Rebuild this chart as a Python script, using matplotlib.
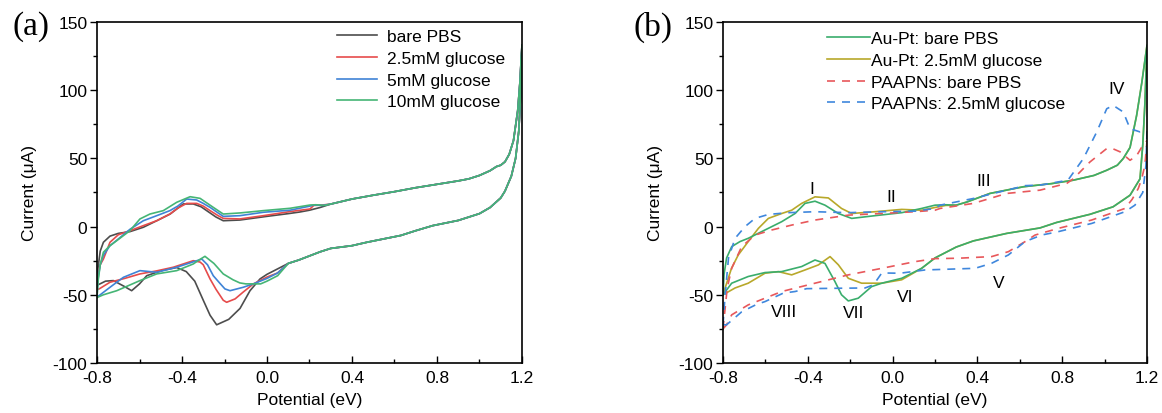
import matplotlib
matplotlib.use("Agg")
import matplotlib.pyplot as plt
from matplotlib.ticker import MultipleLocator

plt.rcParams['font.family'] = ['Liberation Sans', 'DejaVu Sans']

# ---------------- panel (a): Au-Pt in glucose ----------------
# shared part of the anodic (upper) sweep, E >= 0.3 V
tail_up_E = [0.30, 0.40, 0.50, 0.60, 0.70, 0.80, 0.90, 0.95, 1.00, 1.05, 1.08, 1.10, 1.12, 1.14, 1.16, 1.18, 1.19, 1.20]
tail_up_I = [16.5, 20.2, 23.0, 25.6, 28.5, 31.0, 33.5, 35.0, 37.5, 41.0, 44.0, 45.0, 47.5, 53.0, 63.0, 85.0, 105.0, 133.0]
# shared part of the cathodic (lower) sweep, 1.2 V down to 0.1 V
tail_dn_E = [1.20, 1.195, 1.185, 1.17, 1.15, 1.12, 1.10, 1.05, 1.00, 0.90, 0.78, 0.70, 0.63, 0.55, 0.47, 0.40, 0.30, 0.25, 0.20, 0.15, 0.10]
tail_dn_I = [133.0, 100.0, 70.0, 50.0, 37.0, 26.0, 21.0, 14.0, 9.5, 4.5, 0.7, -3.0, -6.5, -9.0, -11.5, -14.0, -16.0, -18.5, -21.5, -24.5, -27.0]

bare_up_E = [-0.80, -0.795, -0.785, -0.77, -0.739, -0.70, -0.645, -0.582, -0.519, -0.456, -0.42, -0.394, -0.347, -0.31, -0.284, -0.24, -0.206, -0.128, 0.0, 0.10, 0.155, 0.20, 0.25]
bare_up_I = [-43, -30, -18, -11.5, -7, -5, -3.7, -0.5, 4.3, 9.2, 13.5, 16.6, 16.6, 14.5, 11.7, 7, 4.3, 4.8, 7.5, 9.5, 10.7, 12, 14]
bare_dn_E = [0.05, 0.0, -0.033, -0.08, -0.127, -0.18, -0.237, -0.268, -0.30, -0.34, -0.38, -0.425, -0.488, -0.519, -0.566, -0.60, -0.637, -0.67, -0.723, -0.76, -0.786, -0.80]
bare_dn_I = [-31, -35, -38.4, -47, -60, -68, -72, -65, -54, -40, -33, -30, -32, -33.5, -36, -42, -47, -44, -39.6, -40, -42, -43]

g25_up_E = [-0.80, -0.795, -0.785, -0.77, -0.739, -0.70, -0.645, -0.582, -0.519, -0.457, -0.42, -0.378, -0.331, -0.30, -0.268, -0.23, -0.206, -0.128, -0.017, 0.108, 0.202, 0.22, 0.26]
g25_up_I = [-46, -35, -28, -23.8, -11.5, -6, -3, 0.7, 4.3, 9.2, 13.5, 17, 17, 15, 11.7, 8, 6, 5.6, 8, 11, 12.9, 15.5, 15.8]
g25_dn_E = [0.05, 0.0, -0.064, -0.112, -0.15, -0.19, -0.206, -0.24, -0.268, -0.30, -0.315, -0.347, -0.441, -0.52, -0.598, -0.67, -0.739, -0.79, -0.80]
g25_dn_I = [-34, -37, -42, -48, -53, -55.5, -54, -46, -38.4, -28, -26, -25, -29.8, -32.5, -34.7, -38, -40.8, -45.7, -46]

g5_up_E = [-0.80, -0.795, -0.785, -0.77, -0.739, -0.707, -0.645, -0.582, -0.519, -0.457, -0.42, -0.378, -0.331, -0.30, -0.268, -0.23, -0.206, -0.128, -0.017, 0.108, 0.202, 0.22, 0.26]
g5_up_I = [-50, -38, -28, -21, -14, -10, -2, 4.3, 8, 11.7, 15, 20.2, 19.5, 17, 14.1, 10, 7.5, 8, 10.5, 12, 15, 15.8, 15.5]
g5_dn_E = [0.05, 0.0, -0.064, -0.112, -0.174, -0.198, -0.225, -0.253, -0.28, -0.307, -0.34, -0.425, -0.519, -0.598, -0.676, -0.739, -0.79, -0.80]
g5_dn_I = [-34, -38, -42, -44.5, -47, -45.7, -41, -36, -28, -23.8, -25.5, -29.8, -33.5, -32.3, -37.2, -44.5, -50.6, -51]

g10_up_E = [-0.80, -0.795, -0.785, -0.77, -0.739, -0.707, -0.645, -0.598, -0.551, -0.488, -0.425, -0.362, -0.315, -0.253, -0.206, -0.127, -0.017, 0.108, 0.202, 0.23, 0.27]
g10_up_I = [-52, -40, -28, -18.8, -14, -10.3, -3, 5.6, 9.2, 11.7, 17.8, 21.9, 20.7, 14.1, 9.2, 10, 11.7, 13.4, 15.8, 16, 15.5]
g10_dn_E = [0.05, 0.0, -0.03, -0.064, -0.10, -0.128, -0.16, -0.206, -0.25, -0.292, -0.32, -0.347, -0.425, -0.519, -0.598, -0.707, -0.77, -0.80]
g10_dn_I = [-36, -40, -42, -42, -42, -41.3, -39, -34.7, -27, -21.8, -24.5, -27.4, -32.3, -34.7, -39.6, -47, -50, -52]

labels_a = ['bare PBS', '2.5mM glucose', '5mM glucose', '10mM glucose']
colors_a = ['#4d4d4d', '#e64b4b', '#3f83d6', '#45b575']

# ---------------- panel (b): Au-Pt vs PAAPNs ----------------
aupt_up_E = [-0.80, -0.795, -0.783, -0.759, -0.72, -0.681, -0.602, -0.523, -0.46, -0.413, -0.366, -0.319, -0.256, -0.193, -0.083, 0.043, 0.137, 0.20, 0.25, 0.30]
aupt_up_I = [-50, -35, -23, -14.7, -11, -8.6, -2.5, 3.6, 9.6, 17, 18.6, 15.7, 9.6, 6, 8, 10.2, 13.3, 15.7, 16, 15.7]
aupt_glu_up_E = [-0.80, -0.79, -0.76, -0.728, -0.681, -0.633, -0.586, -0.523, -0.476, -0.429, -0.366, -0.303, -0.241, -0.193, -0.083, 0.043, 0.137, 0.20, 0.25, 0.30]
aupt_glu_up_I = [-50, -45, -30.6, -20.8, -11, -1.3, 6, 9.6, 12, 17, 21.8, 21, 13.3, 9.6, 10.9, 12.6, 12, 14, 15.5, 15.7]
aupt_tail_up_E = [0.35, 0.459, 0.617, 0.75, 0.852, 0.95, 1.01, 1.06, 1.088, 1.12, 1.151, 1.175, 1.20]
aupt_tail_up_I = [18, 24.3, 29.2, 31.5, 34, 37.5, 41.3, 45, 49.9, 58, 81.5, 105, 133]
aupt_tail_dn_E = [1.20, 1.19, 1.18, 1.167, 1.12, 1.04, 0.931, 0.773, 0.695, 0.538, 0.381, 0.30, 0.20, 0.137]
aupt_tail_dn_I = [133, 90, 60, 35, 23, 14.5, 9, 3, -1, -5, -10.5, -15, -23, -30.6]
aupt_dn_E = [0.043, -0.051, -0.099, -0.162, -0.209, -0.241, -0.272, -0.319, -0.366, -0.429, -0.523, -0.602, -0.681, -0.759, -0.80]
aupt_dn_I = [-37.9, -41.5, -44, -52.5, -54.5, -50, -40.3, -27, -24.5, -29.3, -33, -33.7, -36.6, -41.5, -50]
aupt_glu_dn_E = [0.043, -0.051, -0.146, -0.209, -0.256, -0.295, -0.35, -0.413, -0.476, -0.539, -0.602, -0.681, -0.743, -0.80]
aupt_glu_dn_I = [-39, -41.5, -41.5, -37.9, -28, -22, -28.1, -31.8, -35.4, -33, -34.2, -41.5, -45, -50]

paa_up_E = [-0.80, -0.79, -0.78, -0.759, -0.712, -0.649, -0.57, -0.476, -0.366, -0.209, -0.051, 0.106, 0.20, 0.224, 0.381, 0.538, 0.695, 0.821, 0.852, 0.931, 1.01, 1.04, 1.073, 1.12, 1.151, 1.182, 1.20]
paa_up_I = [-75, -60, -45, -30.6, -14.7, -6.2, -2.5, 1.1, 4.8, 8.4, 9.6, 10.9, 12, 13.3, 17, 24.3, 26.7, 31.6, 35, 47.4, 57.2, 57, 54.8, 48.6, 52, 60, 63]
paa_dn_E = [1.20, 1.19, 1.175, 1.159, 1.13, 1.096, 0.939, 0.782, 0.672, 0.625, 0.546, 0.467, 0.31, 0.20, 0.106, -0.051, -0.209, -0.366, -0.523, -0.681, -0.759, -0.783, -0.80]
paa_dn_I = [63, 45, 35, 28, 20, 13.3, 4.8, -1.3, -6.2, -11, -18.4, -22, -23.2, -23.5, -25.7, -30.6, -35.4, -41.5, -47.6, -57.4, -64.7, -72, -75]

paa_glu_up_E = [-0.80, -0.79, -0.774, -0.743, -0.696, -0.649, -0.586, -0.492, -0.366, -0.209, -0.051, 0.106, 0.20, 0.224, 0.381, 0.507, 0.625, 0.70, 0.827, 0.90, 0.963, 1.01, 1.041, 1.088, 1.12, 1.167, 1.20]
paa_glu_up_I = [-72, -50, -23, -8.6, 0, 6, 8.9, 10.2, 10.9, 10.2, 10.9, 11.3, 13.3, 15.7, 20.6, 25.5, 30, 30.5, 34, 49.9, 69.4, 86.4, 88.8, 84, 71.8, 69.4, 70]
paa_glu_dn_E = [1.20, 1.195, 1.18, 1.143, 1.096, 0.939, 0.782, 0.703, 0.625, 0.546, 0.467, 0.389, 0.31, 0.153, 0.035, -0.051, -0.09, -0.13, -0.248, -0.405, -0.46, -0.516, -0.602, -0.641, -0.712, -0.783, -0.80]
paa_glu_dn_I = [70, 45, 25, 15.7, 10.9, 2.3, -3.7, -6.2, -11, -20.8, -26.9, -30.6, -31, -31.8, -34.2, -34, -42.7, -45, -45.2, -45.5, -47.6, -48.8, -55, -57, -62.5, -72, -72]

labels_b = ['Au-Pt: bare PBS', 'Au-Pt: 2.5mM glucose', 'PAAPNs: bare PBS', 'PAAPNs: 2.5mM glucose']
colors_b = ['#3aad6c', '#b8a82a', '#e8585b', '#3f87dd']

peak_names = ['I', 'II', 'III', 'IV', 'V', 'VI', 'VII', 'VIII']
peak_E = [-0.38, -0.005, 0.43, 1.055, 0.50, 0.06, -0.185, -0.51]
peak_I = [28, 22, 34, 101, -41, -51, -63, -62]

FS = 12.5


def setup_axes(ax):
    ax.set_xlim(-0.8, 1.2)
    ax.set_ylim(-100, 150)
    ax.xaxis.set_minor_locator(MultipleLocator(0.2))
    ax.yaxis.set_minor_locator(MultipleLocator(25))
    ax.set_xticks([-0.8, -0.4, 0.0, 0.4, 0.8, 1.2])
    ax.set_xticklabels(['-0.8', '-0.4', '0.0', '0.4', '0.8', '1.2'])
    ax.set_yticks([-100, -50, 0, 50, 100, 150])
    ax.set_yticklabels(['-100', '-50', '0', '50', '100', '150'])
    ax.tick_params(axis='x', which='both', direction='in', labelsize=FS, pad=5)
    ax.tick_params(axis='y', which='both', direction='out', labelsize=FS, pad=2)
    ax.tick_params(which='major', length=5, width=1)
    ax.tick_params(which='minor', length=3, width=1)
    for s in ax.spines.values():
        s.set_linewidth(1.2)
    ax.set_xlabel('Potential (eV)', fontsize=FS, labelpad=5)
    ax.set_ylabel('Current (\u03bcA)', fontsize=FS, labelpad=11)


fig = plt.figure(figsize=(11.62, 4.14), dpi=100)
ax1 = fig.add_axes([0.0835, 0.1208, 0.3657, 0.8237])
ax2 = fig.add_axes([0.6222, 0.1208, 0.3649, 0.8237])

# panel (a)
loops_a = [
    (bare_up_E + tail_up_E + tail_dn_E + bare_dn_E, bare_up_I + tail_up_I + tail_dn_I + bare_dn_I),
    (g25_up_E + tail_up_E + tail_dn_E + g25_dn_E, g25_up_I + tail_up_I + tail_dn_I + g25_dn_I),
    (g5_up_E + tail_up_E + tail_dn_E + g5_dn_E, g5_up_I + tail_up_I + tail_dn_I + g5_dn_I),
    (g10_up_E + tail_up_E + tail_dn_E + g10_dn_E, g10_up_I + tail_up_I + tail_dn_I + g10_dn_I),
]
for (E, I), lab, c in zip(loops_a, labels_a, colors_a):
    ax1.plot(E, I, color=c, lw=1.2, label=lab, solid_joinstyle='round')
setup_axes(ax1)
fig.legend(*ax1.get_legend_handles_labels(), loc='upper left',
           bbox_to_anchor=(337 / 1162, 1 - 30 / 414), frameon=False, fontsize=FS,
           handlelength=2.3, handletextpad=0.6, labelspacing=0.38, borderpad=0, borderaxespad=0)

# panel (b)
loops_b = [
    (aupt_up_E + aupt_tail_up_E + aupt_tail_dn_E + aupt_dn_E, aupt_up_I + aupt_tail_up_I + aupt_tail_dn_I + aupt_dn_I, '-'),
    (aupt_glu_up_E + aupt_tail_up_E + aupt_tail_dn_E + aupt_glu_dn_E, aupt_glu_up_I + aupt_tail_up_I + aupt_tail_dn_I + aupt_glu_dn_I, '-'),
    (paa_up_E + paa_dn_E, paa_up_I + paa_dn_I, (0, (4.8, 4.2))),
    (paa_glu_up_E + paa_glu_dn_E, paa_glu_up_I + paa_glu_dn_I, (0, (4.8, 4.2))),
]
draw_order = [1, 0, 2, 3]
handles = {}
for k in draw_order:
    E, I, ls = loops_b[k]
    handles[k], = ax2.plot(E, I, color=colors_b[k], lw=1.2, linestyle=ls, label=labels_b[k],
                           solid_joinstyle='round', dash_joinstyle='round')
for name, x, y in zip(peak_names, peak_E, peak_I):
    ax2.text(x, y, name, fontsize=FS, ha='center', va='center')
setup_axes(ax2)
fig.legend([handles[k] for k in range(4)], labels_b, loc='upper left',
           bbox_to_anchor=(827 / 1162, 1 - 32 / 414), frameon=False, fontsize=FS,
           handlelength=2.45, handletextpad=0.1, labelspacing=0.38, borderpad=0, borderaxespad=0)

fig.text(31 / 1162, 1 - 27 / 414, '(a)', family='Liberation Serif', fontsize=24, ha='center', va='center')
fig.text(653 / 1162, 1 - 27 / 414, '(b)', family='Liberation Serif', fontsize=24, ha='center', va='center')

fig.savefig('out.png', dpi=100)
